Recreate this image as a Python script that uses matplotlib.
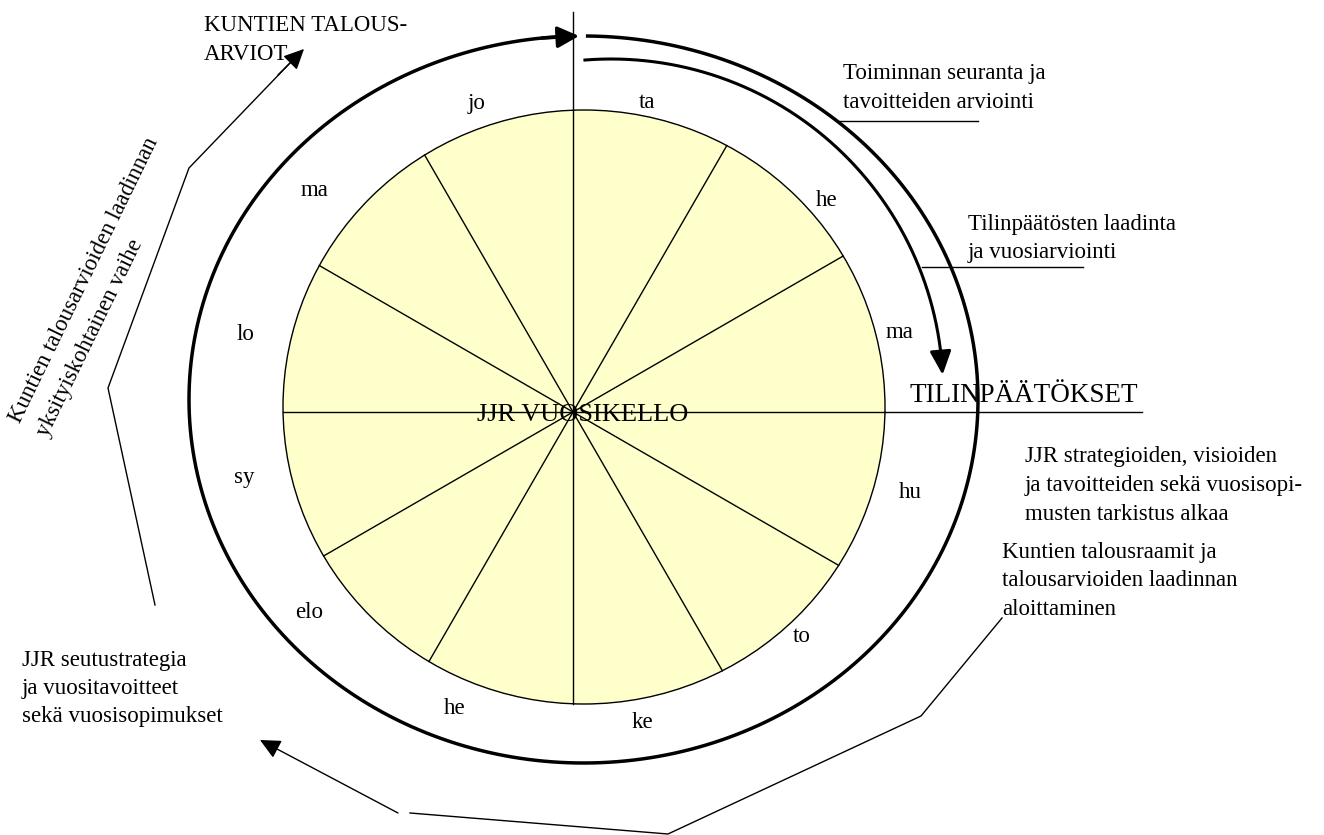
import numpy as np
import matplotlib
matplotlib.use('Agg')
import matplotlib.pyplot as plt
from matplotlib.patches import Ellipse, FancyArrowPatch

plt.rcParams['font.family'] = ['Liberation Serif', 'DejaVu Serif']

# month abbreviations, clockwise from the top
months = ['ta', 'he', 'ma', 'hu', 'to', 'ke', 'he', 'elo', 'sy', 'lo', 'ma', 'jo']
month_xy = [(647, 103), (827, 200), (900, 333), (910, 492), (802, 637), (642, 722),
            (455, 709), (309, 612), (244, 478), (245, 335), (315, 190), (477, 103)]

title_text = 'JJR VUOSIKELLO'
big_label = 'TILINPÄÄTÖKSET'
top_left = ['KUNTIEN TALOUS-', 'ARVIOT']
follow_up = ['Toiminnan seuranta ja', 'tavoitteiden arviointi']
closing = ['Tilinpäätösten laadinta', 'ja vuosiarviointi']
review = ['JJR strategioiden, visioiden', 'ja tavoitteiden sekä vuosisopi-', 'musten tarkistus alkaa']
frames = ['Kuntien talousraamit ja', 'talousarvioiden laadinnan', 'aloittaminen']
strategy = ['JJR seutustrategia', 'ja vuositavoitteet', 'sekä vuosisopimukset']
detail = ['Kuntien talousarvioiden laadinnan', 'yksityiskohtainen vaihe']

W, H = 1324, 835
fig = plt.figure(figsize=(W / 100, H / 100), dpi=100)
ax = fig.add_axes([0, 0, 1, 1])
ax.set_xlim(0, W)
ax.set_ylim(H, 0)
ax.axis('off')

# yellow clock face
face_c, face_a, face_b = (584, 407), 301, 297
ax.add_patch(Ellipse(face_c, 2 * face_a, 2 * face_b, facecolor='#ffffcc', edgecolor='black', lw=1.0, zorder=1))

hub = np.array([573.0, 412.0])


def to_face(ang):
    d = np.array([np.cos(np.radians(ang)), np.sin(np.radians(ang))])
    p = hub - np.array(face_c)
    A = (d[0] / face_a) ** 2 + (d[1] / face_b) ** 2
    B = 2 * (p[0] * d[0] / face_a ** 2 + p[1] * d[1] / face_b ** 2)
    C = (p[0] / face_a) ** 2 + (p[1] / face_b) ** 2 - 1
    t = (-B + np.sqrt(B * B - 4 * A * C)) / (2 * A)
    return hub + t * d


for k in range(12):
    e = to_face(k * 30)
    ax.plot([hub[0], e[0]], [hub[1], e[1]], color='black', lw=1.0, zorder=2)
# axis lines running past the face
ax.plot([to_face(0)[0], 1142], [412, 412], color='black', lw=1.0, zorder=2)
ax.plot([573, 573], [12, to_face(-90)[1]], color='black', lw=1.0, zorder=2)


def arrow(p0, p1, lw, hl, hw):
    ax.add_patch(FancyArrowPatch(p0, p1, arrowstyle='-|>,head_length=%g,head_width=%g' % (hl, hw),
                                 mutation_scale=1, lw=lw, color='black', shrinkA=0, shrinkB=0, zorder=3))


# outer thick ring, arrow at top pointing clockwise
rc, rx, ry = (583.5, 399.5), 394.5, 363.5
t = np.radians(np.linspace(-89.4, 266, 600))
ax.plot(rc[0] + rx * np.cos(t), rc[1] + ry * np.sin(t), color='black', lw=2.5, zorder=3)
ta, tb = np.radians(264), np.radians(269.35)
arrow((rc[0] + rx * np.cos(ta), rc[1] + ry * np.sin(ta)),
      (rc[0] + rx * np.cos(tb), rc[1] + ry * np.sin(tb)), 2.5, 13, 6.5)

# inner arrow arc towards TILINPÄÄTÖKSET
ic, ir = (611, 391), 332
t = np.radians(np.linspace(-94.5, -6, 300))
ax.plot(ic[0] + ir * np.cos(t), ic[1] + ir * np.sin(t), color='black', lw=2.2, zorder=3)
ta, tb = np.radians(-7), np.radians(-2.8)
arrow((ic[0] + ir * np.cos(ta), ic[1] + ir * np.sin(ta)),
      (ic[0] + ir * np.cos(tb), ic[1] + ir * np.sin(tb)), 2.2, 14.4, 6.5)

# left bracket with arrow to KUNTIEN TALOUSARVIOT
ax.plot([155, 108, 189, 290], [605, 388, 168, 63], color='black', lw=1.0, zorder=3)
arrow((278, 75), (304, 49), 1.0, 12.5, 6)

# bottom bracket and arrow
ax.plot([410, 668, 921, 1002], [813, 834, 716, 618], color='black', lw=1.0, zorder=3)
arrow((398, 813), (260, 740), 1.0, 12.5, 6)

# underlines
ax.plot([838, 978], [121, 121], color='black', lw=1.0)
ax.plot([922, 1083], [267, 267], color='black', lw=1.0)

fs = 16.5
for s, (x, y) in zip(months, month_xy):
    ax.text(x, y, s, fontsize=fs, ha='center', va='center', zorder=4)


def block(lines, x, y, size=fs, dy=29):
    for i, s in enumerate(lines):
        ax.text(x, y + i * dy, s, fontsize=size, ha='left', va='baseline', zorder=4)


block(top_left, 204, 31)
block(follow_up, 843, 79)
block(closing, 968, 230, dy=28)
block(review, 1025, 462, dy=29)
block(frames, 1002, 558, dy=28.5)
block(strategy, 22, 666, dy=28)
ax.text(910, 402, big_label, fontsize=19.5, ha='left', va='baseline', zorder=4)
ax.text(477, 421, title_text, fontsize=19, ha='left', va='baseline', zorder=4)

ang = 64
u = np.array([np.sin(np.radians(ang)), np.cos(np.radians(ang))])
for i, s in enumerate(detail):
    ax.text(20 + u[0] * 31 * i, 424 + u[1] * 31 * i, s, fontsize=fs, rotation=ang,
            rotation_mode='anchor', ha='left', va='baseline', zorder=4)

fig.savefig('out.png', dpi=100)
